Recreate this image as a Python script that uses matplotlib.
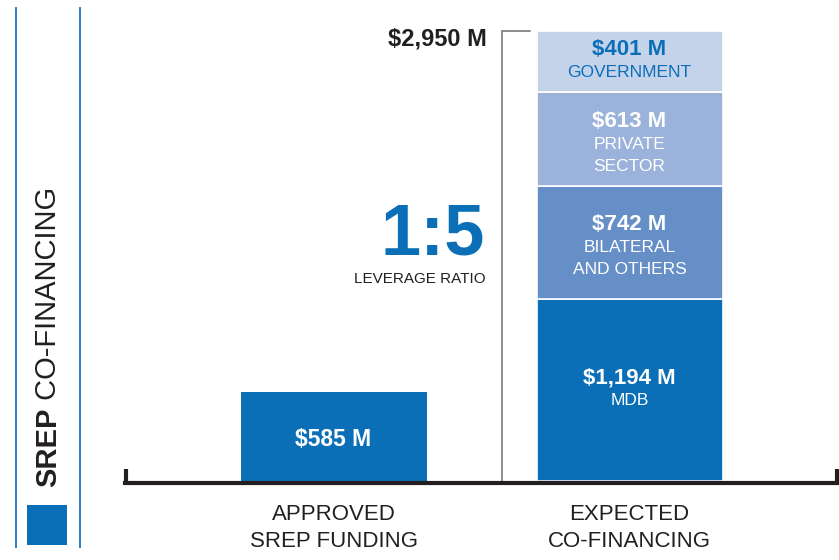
import matplotlib
matplotlib.use("Agg")
import matplotlib.pyplot as plt
from matplotlib import font_manager as fm
from matplotlib.patches import Rectangle
from matplotlib.lines import Line2D
import matplotlib.transforms as mtransforms

# ---------------- data ----------------
categories = ["APPROVED\nSREP FUNDING", "EXPECTED\nCO-FINANCING"]
approved_value = 585
cofin_sources = ["MDB", "BILATERAL\nAND OTHERS", "PRIVATE\nSECTOR", "GOVERNMENT"]
cofin_values = [1194, 742, 613, 401]
cofin_total = 2950
leverage_label = "1:5"
title_bold = "SREP"
title_regular = "CO-FINANCING"

# ---------------- style ----------------
names = {f.name for f in fm.fontManager.ttflist}
NARROW = "Liberation Sans Narrow" if "Liberation Sans Narrow" in names else "Liberation Sans"
BASE = "Liberation Sans"
plt.rcParams["font.family"] = [BASE, "DejaVu Sans"]

BLUE = "#0B6FB8"
seg_colors = ["#0B6FB8", "#668FC8", "#9BB3DA", "#C4D3EA"]
seg_text = ["white", "white", "white", BLUE]
DARK = "#231F20"

W, H = 839, 560
fig = plt.figure(figsize=(W / 100, H / 100), dpi=100)

# axes: x from px 125 to 838, y bottom at px 483, top at px 0
px_per_unit = 0.1525
y_top = 481 / px_per_unit
y_bot = -2 / px_per_unit
ax = fig.add_axes([125 / W, (H - 483) / H, (838 - 125) / W, 483 / H])
unit = 296.0
ax.set_xlim((125 - 333.5) / unit, (838 - 333.5) / unit)
ax.set_ylim(y_bot, y_top)
bw = 186 / unit

# approved bar
ax.bar(0, approved_value, width=bw, color=BLUE, edgecolor="none")
ax.annotate(f"${approved_value:,} M", (0, approved_value / 2), xytext=(0, -2),
            textcoords="offset points", ha="center", va="center",
            color="white", fontsize=16.5, fontweight="bold")

# stacked co-financing bar
bottom = 0
for i, (src, val) in enumerate(zip(cofin_sources, cofin_values)):
    ax.bar(1, val, width=bw, bottom=bottom, color=seg_colors[i],
           edgecolor="white", linewidth=1.2)
    lines = [(f"${val:,} M", "bold", 16)] + [(s, "normal", 12.5) for s in src.split("\n")]
    n = len(lines)
    step = 15.5
    center = bottom + val / 2
    extra = 0 if n == 2 else -4
    for j, (txt, wt, fs) in enumerate(lines):
        dy = ((n - 1) / 2 - j) * step + extra
        if j == 0:
            dy += 1
        ax.annotate(txt, (1, center), xytext=(0, dy), textcoords="offset points",
                    ha="center", va="center", color=seg_text[i], fontsize=fs,
                    fontweight=wt)
    bottom += val

# bracket for total
bx = (502 - 333.5) / unit
bx2 = (530 - 333.5) / unit
ax.plot([bx, bx, bx2], [0, cofin_total, cofin_total], color="#6E6E6E", lw=1.1,
        solid_joinstyle="miter")
ax.annotate(f"${cofin_total:,} M", (bx, cofin_total), xytext=(-11, -6),
            textcoords="offset points", ha="right", va="center", fontsize=17,
            fontweight="bold", color=DARK)

# leverage ratio
ax.annotate(leverage_label, (bx, cofin_total * 0.551), xytext=(-12, -2),
            textcoords="offset points", ha="right", va="center", fontsize=52,
            fontweight="bold", color=BLUE)
ax.annotate("LEVERAGE RATIO", (bx, cofin_total * 0.551), xytext=(-12, -33),
            textcoords="offset points", ha="right", va="center", fontsize=11,
            color=DARK, family=[NARROW, BASE])

# axis baseline
for s in ["top", "right", "left"]:
    ax.spines[s].set_visible(False)
ax.spines["bottom"].set_linewidth(3)
ax.spines["bottom"].set_color(DARK)
ax.set_yticks([])
trans = mtransforms.blended_transform_factory(ax.transAxes, ax.transData)
for xe in (0.002, 0.998):
    ax.plot([xe, xe], [y_bot, 12 / px_per_unit], transform=trans, color=DARK,
            lw=3, clip_on=False, solid_capstyle="butt")
ax.set_xticks([0, 1], categories)
ax.tick_params(axis="x", length=0, pad=15, labelsize=16, labelcolor=DARK)
for lab in ax.get_xticklabels():
    lab.set_family([NARROW, BASE])
    lab.set_linespacing(1.4)

# left decorations
for xp in (16, 80):
    fig.add_artist(Line2D([xp / W, xp / W], [1 - 8 / H, 1 - 547 / H],
                          color="#2E7BC4", lw=1.4))
fig.add_artist(Rectangle((27 / W, (H - 545) / H), 40 / W, 40 / H,
                         facecolor=BLUE, edgecolor="none"))
t1 = fig.text(48 / W, (H - 487) / H, title_bold, rotation=90, ha="center",
              va="bottom", fontsize=21, fontweight="bold", color=DARK,
              family=[NARROW, BASE])
fig.add_artist(plt.Annotation(" " + title_regular, xy=(0.5, 1), xycoords=t1,
                              ha="center", va="bottom", rotation=90, fontsize=21,
                              color=DARK, family=[NARROW, BASE]))

fig.savefig("out.png", dpi=100)
